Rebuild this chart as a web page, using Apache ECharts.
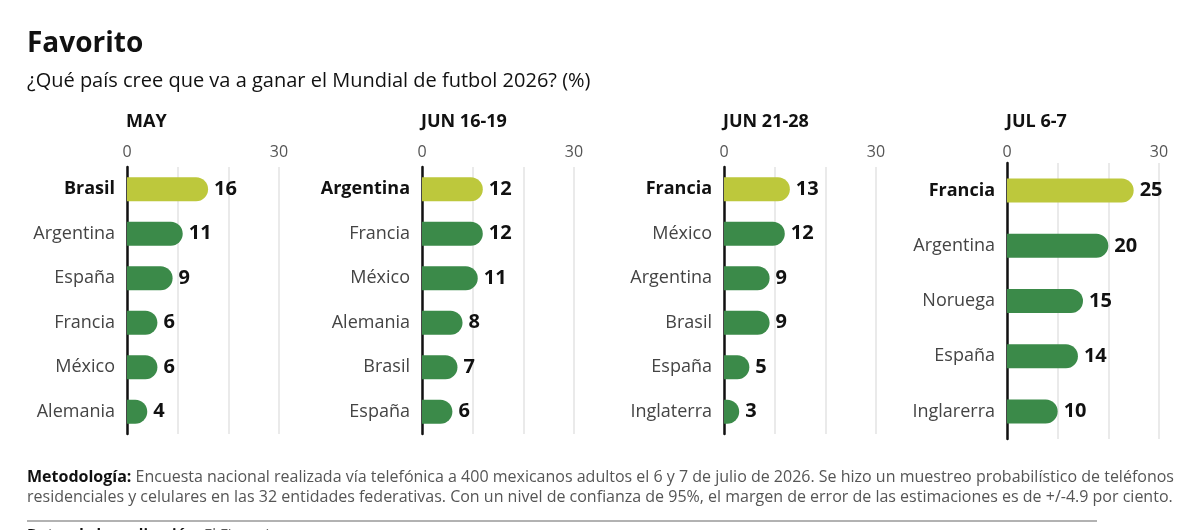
<!DOCTYPE html>
<html>
<head>
<meta charset="utf-8">
<script src="https://cdn.jsdelivr.net/npm/echarts@6/dist/echarts.min.js"></script>
<style>
  html, body { margin: 0; padding: 0; background: #fff; }
  #chart { width: 1200px; height: 530px; }
</style>
</head>
<body>
<div id="chart"></div>
<script>
// datos por encuesta
const periods = ['MAY', 'JUN 16-19', 'JUN 21-28', 'JUL 6-7']
const countriesMay = ['Brasil', 'Argentina', 'España', 'Francia', 'México', 'Alemania']
const valuesMay = [16, 11, 9, 6, 6, 4]
const countriesJun1 = ['Argentina', 'Francia', 'México', 'Alemania', 'Brasil', 'España']
const valuesJun1 = [12, 12, 11, 8, 7, 6]
const countriesJun2 = ['Francia', 'México', 'Argentina', 'Brasil', 'España', 'Inglaterra']
const valuesJun2 = [13, 12, 9, 9, 5, 3]
const countriesJul = ['Francia', 'Argentina', 'Noruega', 'España', 'Inglarerra']
const valuesJul = [25, 20, 15, 14, 10]
const axisTicks = [0, 30]

const panelCats = [countriesMay, countriesJun1, countriesJun2, countriesJul]
const panelVals = [valuesMay, valuesJun1, valuesJun2, valuesJul]
const panelLeft = [127, 422, 724, 1007]
const panelWidth = 152

const FONT = '"Open Sans"'
const leader = '#bdc83c'
const green = '#3b8a49'

const chart = echarts.init(document.getElementById('chart'))

const grids = [], xAxes = [], yAxes = [], series = [], titles = []

panelCats.forEach((cats, i) => {
  const six = cats.length === 6
  grids.push({ left: panelLeft[i], top: six ? 167 : 163, width: panelWidth, height: six ? 267 : 276 })
  xAxes.push({
    gridIndex: i,
    type: 'value',
    position: 'top',
    min: 0,
    max: 30,
    interval: 10,
    axisLine: { show: false },
    axisTick: { show: false },
    axisLabel: {
      margin: six ? 7 : 3,
      color: '#555',
      fontFamily: FONT,
      fontSize: 16,
      formatter: v => axisTicks.includes(v) ? String(v) : ''
    },
    splitLine: { show: true, lineStyle: { color: '#e3e3e3', width: 1.5 } }
  })
  yAxes.push({
    gridIndex: i,
    type: 'category',
    inverse: true,
    data: cats,
    axisLine: { show: true, lineStyle: { color: '#111', width: 2.5 } },
    axisTick: { show: false },
    axisLabel: {
      margin: 12,
      formatter: (v, idx) => idx === 0 ? '{b|' + v + '}' : '{n|' + v + '}',
      rich: {
        b: { fontFamily: FONT, fontSize: 18, fontWeight: 'bold', color: '#111' },
        n: { fontFamily: FONT, fontSize: 18, color: '#444' }
      }
    }
  })
  series.push({
    type: 'bar',
    xAxisIndex: i,
    yAxisIndex: i,
    barWidth: 24,
    data: panelVals[i].map((v, idx) => ({
      value: v,
      itemStyle: { color: idx === 0 ? leader : green }
    })),
    itemStyle: { borderRadius: [0, 12, 12, 0] },
    label: {
      show: true,
      position: 'right',
      distance: 6,
      fontFamily: FONT,
      fontSize: 20,
      fontWeight: 'bold',
      color: '#111'
    },
    silent: true,
    animation: false
  })
  titles.push({
    text: periods[i],
    left: panelLeft[i] - 1,
    top: 113,
    padding: 0,
    textStyle: { fontFamily: FONT, fontSize: 18, fontWeight: 'bold', color: '#111' }
  })
})

titles.push({
  text: 'Favorito',
  left: 27,
  top: 30,
  padding: 0,
  textStyle: { fontFamily: FONT, fontSize: 28, fontWeight: 'bold', color: '#111' }
})
titles.push({
  text: '¿Qué país cree que va a ganar el Mundial de futbol 2026? (%)',
  left: 27,
  top: 71,
  padding: 0,
  textStyle: { fontFamily: FONT, fontSize: 20, fontWeight: 'normal', color: '#111' }
})

chart.setOption({
  animation: false,
  title: titles,
  grid: grids,
  xAxis: xAxes,
  yAxis: yAxes,
  series: series,
  graphic: [
    {
      type: 'text',
      left: 27,
      top: 467,
      style: {
        text: '{b|Metodología:} Encuesta nacional realizada vía telefónica a 400 mexicanos adultos el 6 y 7 de julio de 2026. Se hizo un muestreo probabilístico de teléfonos\nresidenciales y celulares en las 32 entidades federativas. Con un nivel de confianza de 95%, el margen de error de las estimaciones es de +/-4.9 por ciento.',
        font: '16px ' + FONT,
        fill: '#555',
        lineHeight: 20,
        rich: {
          b: { fontFamily: FONT, fontSize: 16, fontWeight: 'bold', fill: '#111', lineHeight: 20 }
        }
      }
    },
    {
      type: 'line',
      shape: { x1: 27, y1: 521, x2: 1097, y2: 521 },
      style: { stroke: '#999', lineWidth: 1.5 }
    },
    {
      type: 'text',
      left: 27,
      top: 527,
      style: {
        text: '{b|Datos de la realización:} El Financiero',
        font: '15px ' + FONT,
        fill: '#555',
        rich: { b: { fontFamily: FONT, fontSize: 15, fontWeight: 'bold', fill: '#111' } }
      }
    }
  ]
})
</script>
</body>
</html>
